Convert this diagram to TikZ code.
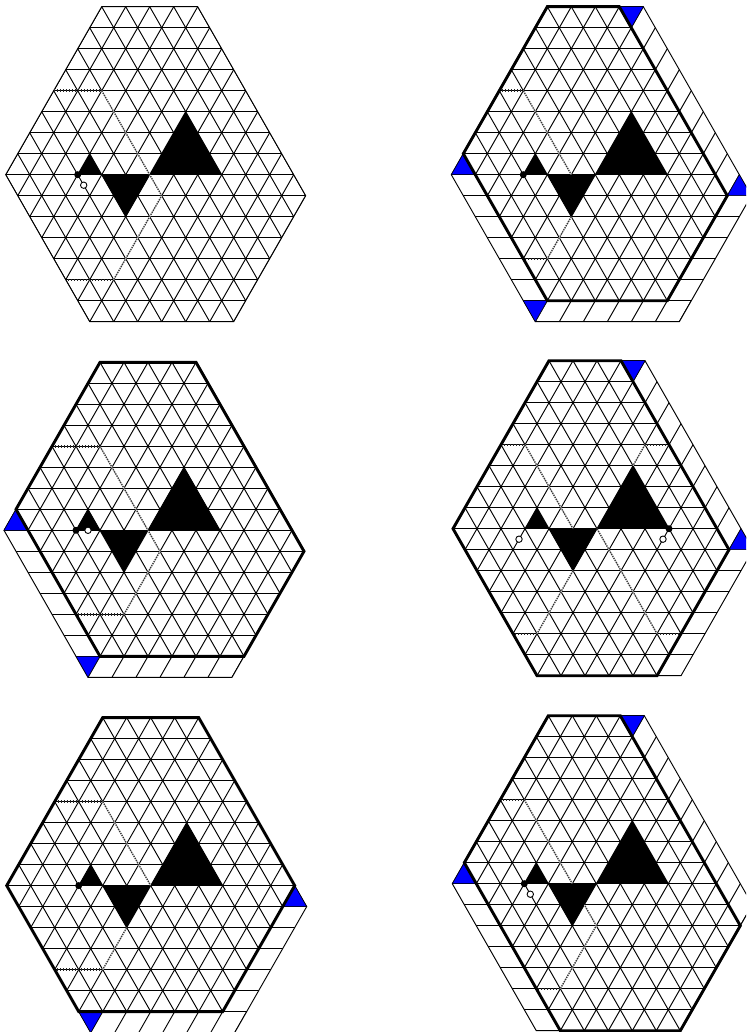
\documentclass[tikz,border=0pt]{standalone}
\usepackage{tikz}
\newcommand{\lathoriz}{\foreach \r in {0,...,15}{\draw[gridline] (-10,\r) -- (20,\r);}}
\newcommand{\latslash}{\foreach \c in {-8,-6,...,32}{\draw[gridline] (\c,0) -- (\c-15,15);}}
\newcommand{\latback}{\foreach \c in {-16,-14,...,8}{\draw[gridline] (\c,0) -- (\c+15,15);}}
\newcommand{\stripfill}[2]{\begin{scope}\clip #1; #2\end{scope}}
\newcommand{\outerhex}{\draw[gridline] (0,0) -- (8,0) -- (17,9) -- (11,15) -- (-1,15) -- (-8,8) -- cycle;}
\newcommand{\motif}{
  \fill (-2,8) -- (-1,7) -- (0,8) -- cycle;
  \fill (0,8) -- (4,8) -- (2,10) -- cycle;
  \fill (4,8) -- (7,5) -- (10,8) -- cycle;
}
\newcommand{\bluedown}[2]{\fill[bluetri] (#1-1,#2) -- (#1+1,#2) -- (#1,#2+1) -- cycle;}
\newcommand{\blueup}[2]{\fill[bluetri] (#1-1,#2) -- (#1+1,#2) -- (#1,#2-1) -- cycle;}
\begin{document}
\begin{tikzpicture}[
    x=12pt, y=-21pt,
    gridline/.style={line width=0.95pt, black},
    thickline/.style={line width=2.9pt, line join=miter},
    dothoriz/.style={line width=2.4pt, dash pattern=on 0.9pt off 2.1pt, black!85},
    dotdiag/.style={line width=1.2pt, dash pattern=on 1.4pt off 1pt, black!80,
                    preaction={draw=white, solid, line width=1.3pt}},
    bluetri/.style={fill=blue, draw=black, line width=0.5pt},
    blackdot/.style={circle, fill=black, minimum size=7pt, inner sep=0pt},
    whitedot/.style={circle, draw=black, fill=white, line width=0.9pt, minimum size=6.4pt, inner sep=0pt}
]
  \useasboundingbox (0pt,0pt) rectangle (746pt,-1032pt);
  \clip (0pt,0pt) rectangle (746pt,-1032pt);

  % Top left: the whole board
  \begin{scope}[shift={(101.7pt,-6.7pt)}]
    \stripfill{(0,0) -- (8,0) -- (17,9) -- (11,15) -- (-1,15) -- (-8,8) -- cycle}{\lathoriz\latslash\latback}
    \outerhex
    \draw[dothoriz] (-4,4) -- (0,4);
    \draw[dothoriz] (1,13) -- (-3,13);
    \draw[dotdiag] (0,4) -- (5,9) -- (1,13);
    \motif
    \node[blackdot] (dotA) at (-2,8) {};
    \node[whitedot] (ringA) at (-1.5,8.5) {};
  \end{scope}

  % Top right
  \begin{scope}[shift={(547.3pt,-6.7pt)}]
    \stripfill{(0,0) -- (6,0) -- (15,9) -- (10,14) -- (0,14) -- (-7,7) -- cycle}{\lathoriz\latslash\latback}
    \stripfill{(6,0) -- (8,0) -- (17,9) -- (15,9) -- cycle}{\latslash}
    \stripfill{(15,9) -- (17,9) -- (11,15) -- (10,14) -- cycle}{\lathoriz}
    \stripfill{(0,14) -- (12,14) -- (11,15) -- (-1,15) -- cycle}{\latslash}
    \stripfill{(-7,7) -- (0,14) -- (-1,15) -- (-8,8) -- cycle}{\lathoriz}
    \outerhex
    \draw[dothoriz] (-4,4) -- (-2,4);
    \draw[dothoriz] (0,12) -- (-2,12);
    \draw[dotdiag] (-2,4) -- (2,8);
    \draw[dotdiag] (2,10) -- (0,12);
    \motif
    \bluedown{7}{0} \blueup{-7}{8} \blueup{16}{9} \bluedown{-1}{14}
    \draw[thickline] (0,0) -- (6,0) -- (15,9) -- (10,14) -- (0,14) -- (-7,7) -- cycle;
    \node[blackdot] (dotB) at (-2,8) {};
  \end{scope}

  % Middle left
  \begin{scope}[shift={(100pt,-362.3pt)}]
    \stripfill{(0,0) -- (8,0) -- (17,9) -- (12,14) -- (0,14) -- (-7,7) -- cycle}{\lathoriz\latslash\latback}
    \stripfill{(0,14) -- (12,14) -- (11,15) -- (-1,15) -- cycle}{\latslash}
    \stripfill{(-7,7) -- (0,14) -- (-1,15) -- (-8,8) -- cycle}{\lathoriz}
    \outerhex
    \draw[dothoriz] (-4,4) -- (0,4);
    \draw[dothoriz] (2,12) -- (-2,12);
    \draw[dotdiag] (0,4) -- (5,9) -- (2,12);
    \motif
    \blueup{-7}{8} \bluedown{-1}{14}
    \draw[thickline] (0,0) -- (8,0) -- (17,9) -- (12,14) -- (0,14) -- (-7,7) -- cycle;
    \node[blackdot] (dotC) at (-2,8) {};
    \node[whitedot] (ringC) at (-1,8) {};
  \end{scope}

  % Middle right
  \begin{scope}[shift={(549pt,-360.7pt)}]
    \stripfill{(0,0) -- (6,0) -- (15,9) -- (9,15) -- (-1,15) -- (-8,8) -- cycle}{\lathoriz\latslash\latback}
    \stripfill{(6,0) -- (8,0) -- (17,9) -- (15,9) -- cycle}{\latslash}
    \stripfill{(15,9) -- (17,9) -- (11,15) -- (9,15) -- cycle}{\lathoriz}
    \outerhex
    \draw[dothoriz] (-4,4) -- (-2,4);
    \draw[dothoriz] (-1,13) -- (-3,13);
    \draw[dothoriz] (10,4) -- (8,4);
    \draw[dothoriz] (9,13) -- (11,13);
    \draw[dotdiag] (-2,4) -- (2,8);
    \draw[dotdiag] (2,10) -- (-1,13);
    \draw[dotdiag] (8,4) -- (7,5);
    \draw[dotdiag] (4,8) -- (9,13);
    \motif
    \blueup{16}{9} \bluedown{7}{0}
    \draw[thickline] (0,0) -- (6,0) -- (15,9) -- (9,15) -- (-1,15) -- (-8,8) -- cycle;
    \node[blackdot] (dotD) at (10,8) {};
    \node[whitedot] (ringD) at (-2.5,8.5) {};
    \node[whitedot] (ringE) at (9.5,8.5) {};
  \end{scope}

  % Bottom left
  \begin{scope}[shift={(102.7pt,-717.6pt)}]
    \stripfill{(0,0) -- (8,0) -- (16,8) -- (10,14) -- (-2,14) -- (-8,8) -- cycle}{\lathoriz\latslash\latback}
    \stripfill{(16,8) -- (17,9) -- (11,15) -- (10,14) -- cycle}{\lathoriz}
    \stripfill{(-2,14) -- (12,14) -- (11,15) -- (-1,15) -- cycle}{\latslash}
    \outerhex
    \draw[dothoriz] (-4,4) -- (0,4);
    \draw[dothoriz] (0,12) -- (-4,12);
    \draw[dotdiag] (0,4) -- (4,8);
    \draw[dotdiag] (2,10) -- (0,12);
    \motif
    \blueup{16}{9} \bluedown{-1}{14}
    \draw[thickline] (0,0) -- (8,0) -- (16,8) -- (10,14) -- (-2,14) -- (-8,8) -- cycle;
    \node[blackdot] (dotF) at (-2,8) {};
  \end{scope}

  % Bottom right
  \begin{scope}[shift={(548.3pt,-715.7pt)}]
    \stripfill{(0,0) -- (6,0) -- (16,10) -- (11,15) -- (1,15) -- (-7,7) -- cycle}{\lathoriz\latslash\latback}
    \stripfill{(6,0) -- (8,0) -- (17,9) -- (16,10) -- cycle}{\latslash}
    \stripfill{(-7,7) -- (1,15) -- (-1,15) -- (-8,8) -- cycle}{\lathoriz}
    \outerhex
    \draw[dothoriz] (-4,4) -- (-2,4);
    \draw[dothoriz] (1,13) -- (-1,13);
    \draw[dotdiag] (-2,4) -- (4,10) -- (1,13);
    \motif
    \bluedown{7}{0} \blueup{-7}{8}
    \draw[thickline] (0,0) -- (6,0) -- (16,10) -- (11,15) -- (1,15) -- (-7,7) -- cycle;
    \node[blackdot] (dotG) at (-2,8) {};
    \node[whitedot] (ringG) at (-1.5,8.5) {};
  \end{scope}
\end{tikzpicture}
\end{document}
